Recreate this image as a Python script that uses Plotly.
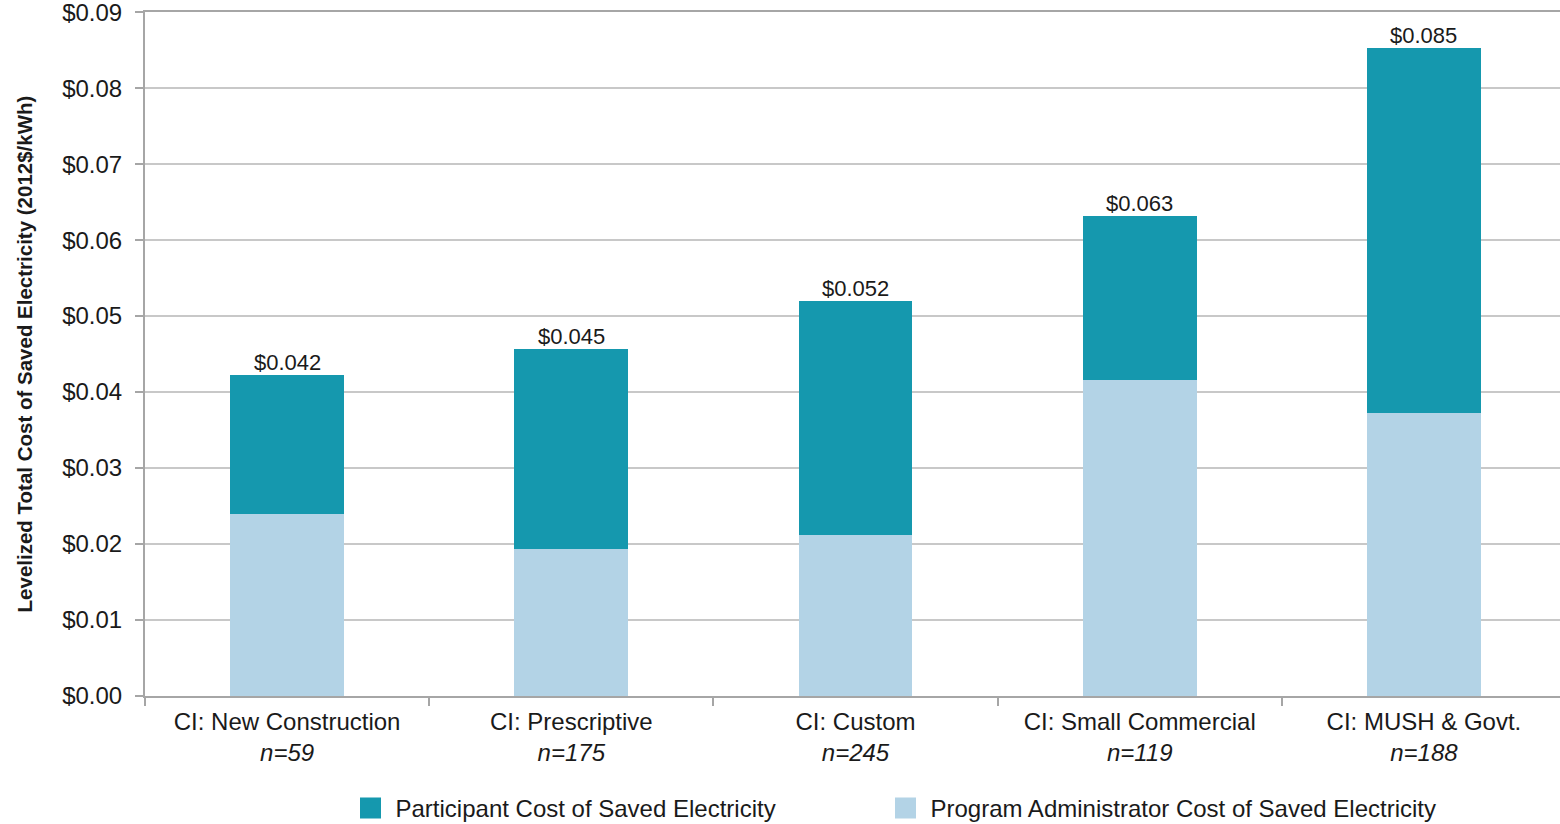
import plotly.graph_objects as go

categories = ["CI: New Construction", "CI: Prescriptive", "CI: Custom", "CI: Small Commercial", "CI: MUSH &amp; Govt."]
sample_sizes = ["n=59", "n=175", "n=245", "n=119", "n=188"]
admin_cost = [0.0240, 0.0194, 0.0212, 0.0416, 0.0372]
total_cost = [0.0422, 0.0457, 0.0520, 0.0632, 0.0853]
participant_cost = [round(t - a, 4) for t, a in zip(total_cost, admin_cost)]
total_labels = ["$0.042", "$0.045", "$0.052", "$0.063", "$0.085"]
y_ticks = [0.00, 0.01, 0.02, 0.03, 0.04, 0.05, 0.06, 0.07, 0.08, 0.09]
y_tick_labels = ["$0.00", "$0.01", "$0.02", "$0.03", "$0.04", "$0.05", "$0.06", "$0.07", "$0.08", "$0.09"]

TEAL = "#1598AE"
LIGHT = "#B3D3E6"
FONT = "Liberation Sans, Arial, sans-serif"
TXT = "#1a1a1a"

tick_text = [f"{c}<br><i>{n}</i>" for c, n in zip(categories, sample_sizes)]

fig = go.Figure()
fig.add_trace(go.Bar(x=categories, y=admin_cost, marker=dict(color=LIGHT, line=dict(width=0)),
                     showlegend=False, name="Program Administrator Cost of Saved Electricity"))
fig.add_trace(go.Bar(x=categories, y=participant_cost, marker=dict(color=TEAL, line=dict(width=0)),
                     showlegend=False, name="Participant Cost of Saved Electricity"))
# legend entries (two independent legends)
fig.add_trace(go.Scatter(x=[None], y=[None], mode="markers", name="Participant Cost of Saved Electricity",
                         marker=dict(symbol="square", size=16, color=TEAL, line=dict(color=TEAL, width=5)),
                         legend="legend"))
fig.add_trace(go.Scatter(x=[None], y=[None], mode="markers", name="Program Administrator Cost of Saved Electricity",
                         marker=dict(symbol="square", size=16, color=LIGHT, line=dict(color=LIGHT, width=5)),
                         legend="legend2"))

for c, t, lab in zip(categories, total_cost, total_labels):
    fig.add_annotation(x=c, y=t, text=lab, showarrow=False, yanchor="bottom", yshift=-2,
                       font=dict(size=22, color=TXT, family=FONT))

leg_common = dict(orientation="h", xanchor="left", y=-0.1645, yanchor="middle",
                  font=dict(size=24, color=TXT, family=FONT), itemwidth=40,
                  bgcolor="rgba(0,0,0,0)")

x_end = 4.5 - 6 / 284

fig.update_layout(
    width=1560, height=824,
    barmode="stack", bargap=0.6,
    plot_bgcolor="white", paper_bgcolor="white",
    margin=dict(l=145, r=0, t=12, b=128, autoexpand=False),
    font=dict(family=FONT, size=24, color=TXT),
    legend=dict(x=(345.5 - 145) / 1415, **leg_common),
    legend2=dict(x=(880.5 - 145) / 1415, **leg_common),
)
fig.update_xaxes(
    tickmode="array", tickvals=categories, ticktext=tick_text, tickson="boundaries",
    ticks="outside", ticklen=8, tickwidth=2, tickcolor="#A6A6A6",
    showline=True, linecolor="#A6A6A6", linewidth=2, mirror=True,
    tickfont=dict(size=24, color=TXT, family=FONT), ticklabelstandoff=3,
    showgrid=False, range=[-0.5, x_end], fixedrange=True, automargin=False,
)
fig.update_yaxes(
    range=[0, 0.09002], tickmode="array", tickvals=y_ticks, ticktext=y_tick_labels,
    ticks="outside", ticklen=8, tickwidth=2, tickcolor="#A6A6A6",
    showline=True, linecolor="#A6A6A6", linewidth=2,
    showgrid=True, gridcolor="#C8C8C8", gridwidth=1.5, zeroline=False,
    tickfont=dict(size=24, color=TXT, family=FONT), ticklabelstandoff=8,
    ticklabeloverflow="allow",
    title=dict(text="<b>Levelized Total Cost of Saved Electricity (2012$/kWh)</b>", standoff=24,
               font=dict(family=FONT, size=20.5, color=TXT)),
    automargin=False, fixedrange=True,
)

fig.write_html("out.html", config={"displayModeBar": False},
               post_script="document.body.style.margin='0';document.body.style.padding='0';")
